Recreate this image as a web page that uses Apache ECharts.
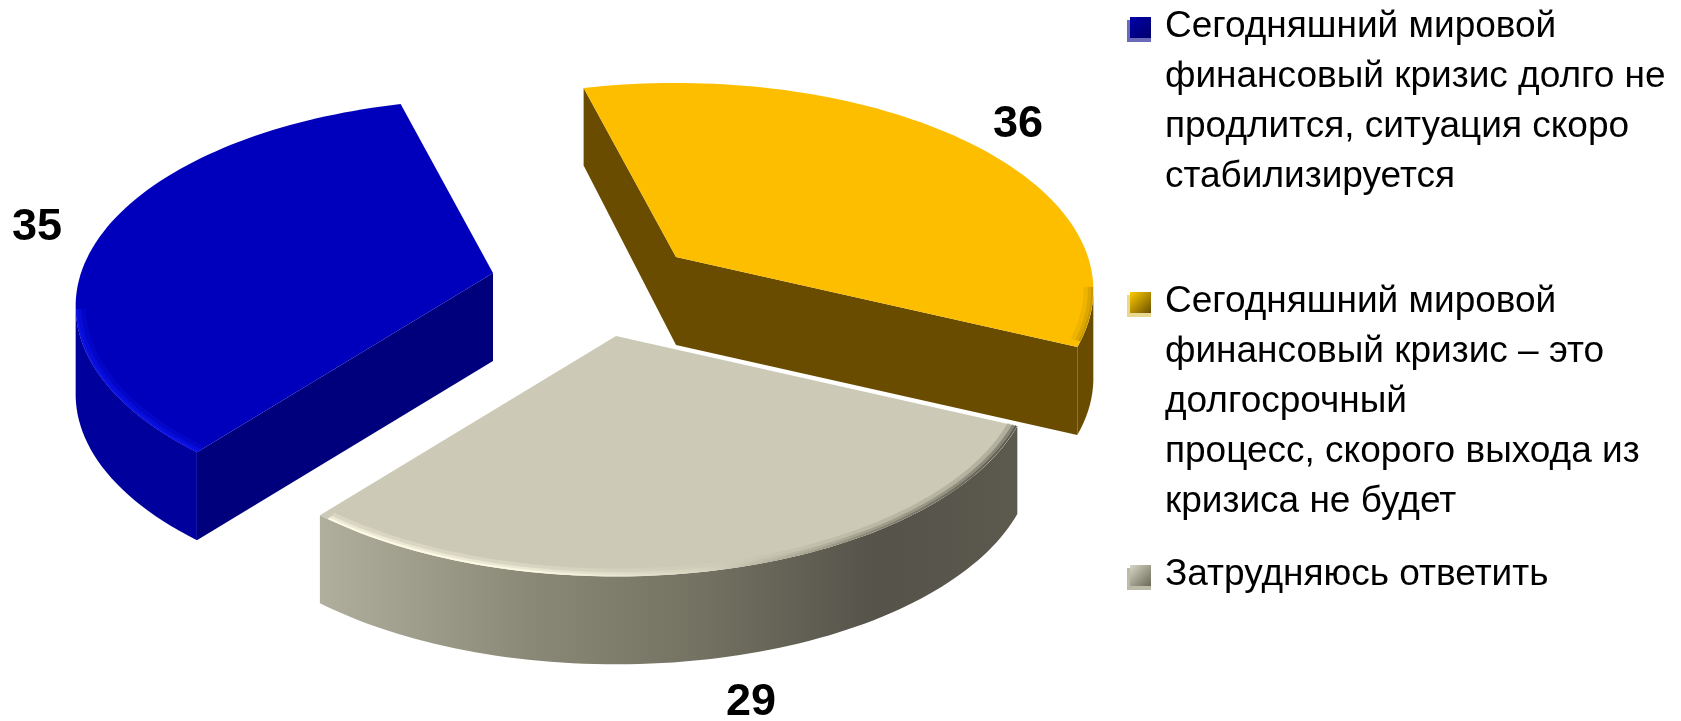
<!DOCTYPE html>
<html>
<head>
<meta charset="utf-8">
<style>
  html, body { margin: 0; background: #fff; }
  #chart { width: 1681px; height: 721px; }
</style>
</head>
<body>
<div id="chart"></div>
<script src="https://cdn.jsdelivr.net/npm/echarts@6/dist/echarts.min.js"></script>
<script>
const categories = [
  'Сегодняшний мировой\nфинансовый кризис долго не\nпродлится, ситуация скоро\nстабилизируется',
  'Сегодняшний мировой\nфинансовый кризис – это\nдолгосрочный\nпроцесс, скорого выхода из\nкризиса не будет',
  'Затрудняюсь ответить'
];
const values = [35, 36, 29];

// pie order clockwise from the back spoke: yellow, gray, blue
const drawOrder = [1, 2, 0];
const startAngle = -15;

// perspective of the pie plane
const radius = 412;
const squash = 0.49;
const persp = 0.16;
const depth = 88;

// layout and look of each slice, same order as values
const centers = [[493, 273], [676, 257], [616, 336]];
const labelPos = [[37, 228], [1018, 125], [751, 703]];
const topColor = ['#0000bc', '#fdbe00', '#cccab6'];
const innerColor = ['#00007c', '#694c00', '#6a6858'];
const legendTop = [2, 277, 550];
const legendColor = [
  ['#0000a8', '#00006c', '#6a6ab8'],
  ['#ffcc00', '#6a5000', '#e8d890'],
  ['#d8d6c4', '#6a6858', '#bcbaa8']
];

function project(t, c, r) {
  const a = t * Math.PI / 180;
  const X = Math.sin(a) * r;
  const Y = -Math.cos(a) * r;
  const s = radius / (1 - persp * Y);
  const d = depth + (Y < 0 ? 11 * Y : 0);
  return { x: c[0] + X * s, y: c[1] + squash * Y * s, d: d };
}

function sliceAngles() {
  const total = values.reduce((a, b) => a + b, 0);
  const res = [];
  let t = startAngle;
  drawOrder.forEach(i => {
    const sweep = values[i] / total * 360;
    res[i] = [t, t + sweep];
    t += sweep;
  });
  return res;
}

const angles = sliceAngles();

function wallFill(i) {
  if (i === 2) {
    return {
      type: 'linear', x: 0, y: 0, x2: 1, y2: 0,
      colorStops: [
        { offset: 0, color: '#b0ae9c' },
        { offset: 0.3, color: '#8a8876' },
        { offset: 0.55, color: '#737161' },
        { offset: 0.8, color: '#55534a' },
        { offset: 1, color: '#5c5a4e' }
      ]
    };
  }
  return i === 0 ? '#00009c' : '#694c00';
}

function rimStroke(i) {
  if (i === 2) {
    return {
      type: 'linear', x: 0, y: 0, x2: 1, y2: 0,
      colorStops: [
        { offset: 0, color: '#fffbe6' },
        { offset: 0.3, color: '#fbf8e2' },
        { offset: 0.55, color: '#d6d3be' },
        { offset: 0.78, color: '#8a8876' },
        { offset: 1, color: '#5a584c' }
      ]
    };
  }
  return i === 0 ? '#0c14e8' : '#c89800';
}

function renderSlice(params, api) {
  const i = params.dataIndex;
  const c = centers[i];
  const [t0, t1] = angles[i];
  const steps = 80;
  const arc = [];
  for (let k = 0; k <= steps; k++) {
    arc.push(project(t0 + (t1 - t0) * k / steps, c, 1));
  }
  const mid = { x: c[0], y: c[1], d: depth };
  const outline = [mid].concat(arc);
  const children = [];

  // walls: edges running right to left on screen face the viewer
  const quad = (a, b) => [[a.x, a.y], [b.x, b.y], [b.x, b.y + b.d], [a.x, a.y + a.d]];
  if (arc[0].x < mid.x) {
    children.push({ type: 'polygon', shape: { points: quad(mid, arc[0]) }, style: { fill: innerColor[i] } });
  }
  const visible = [];
  for (let k = 0; k < steps; k++) {
    if (arc[k + 1].x < arc[k].x) {
      if (!visible.length) visible.push(arc[k]);
      visible.push(arc[k + 1]);
    }
  }
  if (visible.length) {
    const low = visible.slice().reverse().map(p => [p.x, p.y + p.d]);
    children.push({
      type: 'polygon',
      shape: { points: visible.map(p => [p.x, p.y]).concat(low) },
      style: { fill: wallFill(i) }
    });
  }
  if (mid.x < arc[steps].x) {
    children.push({ type: 'polygon', shape: { points: quad(arc[steps], mid) }, style: { fill: innerColor[i] } });
  }

  // top face
  children.push({
    type: 'polygon',
    shape: { points: outline.map(p => [p.x, p.y]) },
    style: { fill: topColor[i] }
  });

  // soft rim along the front of the top face
  if (visible.length) {
    [[7, 0.25, 0.985], [4, 0.5, 0.992], [2, 1, 0.997]].forEach(([w, op, r]) => {
      const rim = [];
      for (let k = 0; k <= steps; k++) {
        const t = t0 + (t1 - t0) * k / steps;
        const p = project(t, c, r);
        if (k < steps && project(t + (t1 - t0) / steps, c, 1).x < project(t, c, 1).x) rim.push([p.x, p.y]);
      }
      children.push({
        type: 'polyline',
        shape: { points: rim },
        style: { fill: null, stroke: rimStroke(i), lineWidth: w, opacity: op }
      });
    });
  }

  children.push({
    type: 'text',
    style: {
      text: String(api.value(0)),
      x: labelPos[i][0],
      y: labelPos[i][1],
      align: 'center',
      verticalAlign: 'middle',
      font: 'bold 45px "Liberation Sans", Arial, sans-serif',
      fill: '#000'
    }
  });
  return { type: 'group', children: children };
}

// legend is laid out by hand: the swatch sits on the first text line
const legendItems = [];
categories.forEach((name, i) => {
  const y = legendTop[i];
  legendItems.push({
    type: 'rect',
    shape: { x: 1127, y: y + 18, width: 24, height: 22 },
    style: { fill: legendColor[i][2] }
  });
  legendItems.push({
    type: 'rect',
    shape: { x: 1130, y: y + 15, width: 21, height: 21 },
    style: {
      fill: {
        type: 'linear', x: 0, y: 0, x2: 1, y2: 1,
        colorStops: [
          { offset: 0, color: legendColor[i][0] },
          { offset: 1, color: legendColor[i][1] }
        ]
      }
    }
  });
  legendItems.push({
    type: 'text',
    style: {
      text: name,
      x: 1165,
      y: y,
      font: '37px "Liberation Sans", Arial, sans-serif',
      lineHeight: 50,
      fill: '#000',
      verticalAlign: 'top'
    }
  });
});

const chart = echarts.init(document.getElementById('chart'));
chart.setOption({
  animation: false,
  backgroundColor: '#fff',
  graphic: legendItems,
  series: [{
    type: 'custom',
    coordinateSystem: 'none',
    renderItem: renderSlice,
    silent: true,
    data: values.map((v, i) => ({ name: categories[i], value: [v] }))
  }]
});
</script>
</body>
</html>
